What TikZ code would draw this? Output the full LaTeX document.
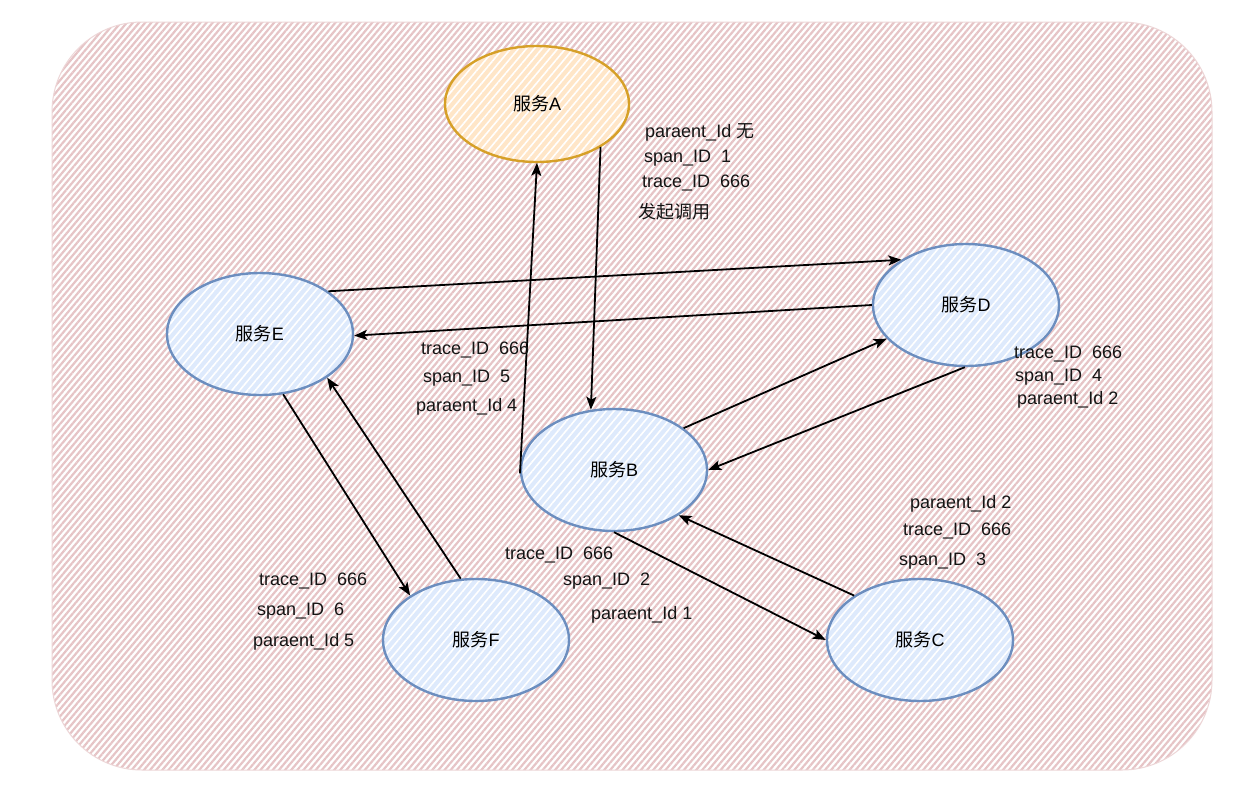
\documentclass[tikz,border=0pt]{standalone}
\usepackage{fontspec}
\setmainfont{Liberation Sans}
\newfontfamily\cjk{Noto Sans CJK SC}
\usetikzlibrary{shapes.geometric,arrows.meta,patterns.meta}
\definecolor{hatchpink}{RGB}{230,196,198}
\definecolor{innerpink}{RGB}{240,205,205}
\definecolor{bluefill}{RGB}{222,234,252}
\definecolor{bluedraw}{RGB}{108,142,191}
\definecolor{orangefill}{RGB}{255,230,200}
\definecolor{orangedraw}{RGB}{214,160,40}
\tikzset{
  svc/.style={ellipse, minimum width=186pt, minimum height=122pt, inner sep=0pt,
    draw=bluedraw, line width=2.4pt, preaction={fill=bluefill},
    pattern={Lines[angle=50,distance=6pt,line width=1.6pt]}, pattern color=white},
  svca/.style={svc, minimum width=184pt, minimum height=116pt, draw=orangedraw,
    preaction={fill=orangefill}},
  lbl/.style={anchor=west, inner sep=0pt, text=black!92},
  conn/.style={-{Stealth[length=13pt,width=10pt,inset=3pt]}, line width=1.8pt, draw=black}
}
\begin{document}
\begin{tikzpicture}[x=1pt,y=-1pt, font=\fontsize{18}{21}\selectfont]
\useasboundingbox (0,0) rectangle (1240,788);
\fill[white] (0,0) rectangle (1240,788);
\draw[draw=hatchpink!70, line width=1pt, rounded corners=90pt,
  pattern={Lines[angle=50,distance=4.7pt,line width=2.2pt]}, pattern color=hatchpink]
  (52,22) rectangle (1212,770);

\node[svca] (A) at (537,104) {{\cjk 服务}A};
\node[svc] (E) at (260,334) {{\cjk 服务}E};
\node[svc] (D) at (966,305) {{\cjk 服务}D};
\node[svc] (B) at (614,470) {{\cjk 服务}B};
\node[svc] (C) at (920,640) {{\cjk 服务}C};
\node[svc] (F) at (476,640) {{\cjk 服务}F};

\draw[conn] (A.-34) -- (B.111);
\draw[conn] (B.-178) -- (A.-90);
\draw[conn] (E.32) -- (D.145);
\draw[conn] (D.180) -- (E.-1);
\draw[conn] (B.31) -- (D.203);
\draw[conn] (D.-91) -- (B.0);
\draw[conn] (B.-90) -- (C.180);
\draw[conn] (C.146) -- (B.-35);
\draw[conn] (E.-69) -- (F.146);
\draw[conn] (F.104) -- (E.-33);

\node[lbl] (a1) at (645,132) {paraent\_Id {\cjk 无}};
\node[lbl] (a2) at (644,158) {span\_ID\ \ 1};
\node[lbl] (a3) at (642,183) {trace\_ID\ \ 666};
\node[lbl] (a4) at (638,212) {\cjk 发起调用};

\node[lbl] (e1) at (421,350) {trace\_ID\ \ 666};
\node[lbl] (e2) at (423,378) {span\_ID\ \ 5};
\node[lbl] (e3) at (416,407) {paraent\_Id 4};

\node[lbl] (d1) at (1014,354) {trace\_ID\ \ 666};
\node[lbl] (d2) at (1015,377) {span\_ID\ \ 4};
\node[lbl] (d3) at (1017,400) {paraent\_Id 2};

\node[lbl] (b1) at (505,555) {trace\_ID\ \ 666};
\node[lbl] (b2) at (563,581) {span\_ID\ \ 2};
\node[lbl] (b3) at (591,615) {paraent\_Id 1};

\node[lbl] (c1) at (910,504) {paraent\_Id 2};
\node[lbl] (c2) at (903,531) {trace\_ID\ \ 666};
\node[lbl] (c3) at (899,561) {span\_ID\ \ 3};

\node[lbl] (f1) at (259,581) {trace\_ID\ \ 666};
\node[lbl] (f2) at (257,611) {span\_ID\ \ 6};
\node[lbl] (f3) at (253,642) {paraent\_Id 5};
\end{tikzpicture}
\end{document}
